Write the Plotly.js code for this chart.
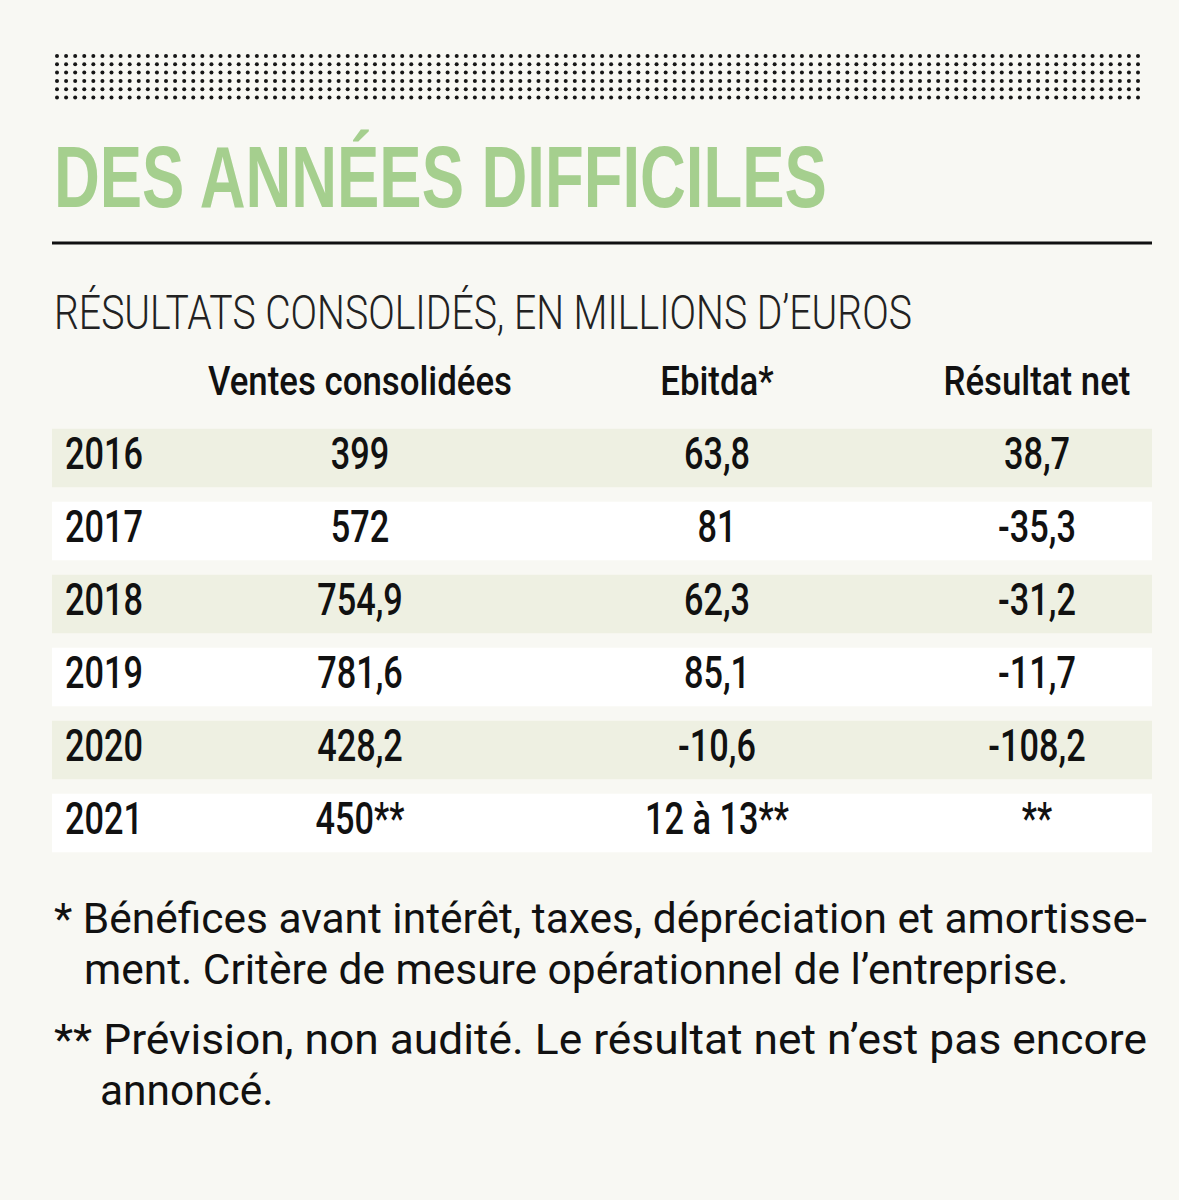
<!DOCTYPE html>
<html>
<head>
<meta charset="utf-8">
<script src="https://cdn.plot.ly/plotly-3.0.1.min.js"></script>
<style>
  html, body { margin: 0; padding: 0; background: #f8f8f3; }
  #chart { width: 1179px; height: 1200px; }
</style>
</head>
<body>
<div id="chart"></div>
<script>
// ---- Data ----
const years = ["2016", "2017", "2018", "2019", "2020", "2021"];
const ventes = ["399", "572", "754,9", "781,6", "428,2", "450**"];
const ebitda = ["63,8", "81", "62,3", "85,1", "-10,6", "12 à 13**"];
const resultatNet = ["38,7", "-35,3", "-31,2", "-11,7", "-108,2", "**"];
const headers = ["Ventes consolidées", "Ebitda*", "Résultat net"];

const titleText = "DES ANNÉES DIFFICILES";
const subtitleText = "RÉSULTATS CONSOLIDÉS, EN MILLIONS D’EUROS";
const note1 = ["* Bénéfices avant intérêt, taxes, dépréciation et amortisse-", "ment. Critère de mesure opérationnel de l’entreprise."];
const note2 = ["** Prévision, non audité. Le résultat net n’est pas encore", "annoncé."];

// ---- Layout / style constants ----
const W = 1179, H = 1200;
const BG = "#f8f8f3";
const rowIdx = years.map((_, i) => i);
const colYearX = 65, colX = [360, 717, 1037];
const bandLeft = 52, bandRight = 1152;
const rowColors = years.map((_, i) => i % 2 === 0 ? "#eef0e2" : "#ffffff");
const CELL_FONT = "Roboto, Liberation Sans, sans-serif";
const TITLE_FONT = "Liberation Sans, Arial, sans-serif";
const NOTE_FONT = "Roboto, Liberation Sans, sans-serif";
const YEAR_WIDTH = 78, HEAD_WIDTH = 304;
const TITLE_WIDTH = 773, SUBTITLE_WIDTH = 858, NOTE_WIDTH = 1093;

const traces = [];

// Row bands
traces.push({
  type: "bar", orientation: "h",
  y: rowIdx, x: rowIdx.map(() => bandRight - bandLeft), base: bandLeft,
  width: 0.8,
  marker: { color: rowColors, line: { width: 0 } },
  hoverinfo: "skip", showlegend: false
});

// Years column
traces.push({
  type: "scatter", mode: "text", x: rowIdx.map(() => colYearX), y: rowIdx,
  text: years, textposition: "middle right",
  textfont: { family: CELL_FONT, size: 44, color: "#111", weight: 500 },
  hoverinfo: "skip", showlegend: false
});

// Value columns
[ventes, ebitda, resultatNet].forEach((vals, c) => {
  traces.push({
    type: "scatter", mode: "text", x: rowIdx.map(() => colX[c]), y: rowIdx,
    text: vals, textposition: "middle center",
    textfont: { family: CELL_FONT, size: 44, color: "#111", weight: 500 },
    hoverinfo: "skip", showlegend: false
  });
});

// Header row
traces.push({
  type: "scatter", mode: "text", x: colX, y: headers.map(() => -1),
  text: headers, textposition: "middle center",
  textfont: { family: CELL_FONT, size: 40, color: "#111", weight: 500 },
  hoverinfo: "skip", showlegend: false
});

// Decorative dotted band (pixel axis y2)
const dx = [], dy = [];
for (let r = 0; r < 6; r++) {
  for (let c = 0; c < 120; c++) {
    dx.push(57 + c * (1138 - 57) / 119);
    dy.push(56 + r * 8.3);
  }
}
traces.push({
  type: "scatter", mode: "markers", x: dx, y: dy, yaxis: "y2",
  marker: { size: 4, color: "#161616" },
  hoverinfo: "skip", showlegend: false
});

const rowPx0 = 458, rowStep = 73;
const yRange = [(H - rowPx0) / rowStep, (0 - rowPx0) / rowStep];

function ann(text, px, py, font) {
  return {
    text: text, xref: "paper", yref: "paper",
    x: px / W, y: 1 - py / H, xanchor: "left", yanchor: "middle",
    showarrow: false, font: font, align: "left"
  };
}

const noteFont = { family: NOTE_FONT, size: 42, color: "#111" };

const layout = {
  width: W, height: H,
  margin: { l: 0, r: 0, t: 0, b: 0 },
  paper_bgcolor: BG, plot_bgcolor: BG,
  showlegend: false,
  xaxis: { range: [0, W], visible: false, fixedrange: true },
  yaxis: { range: yRange, visible: false, fixedrange: true },
  yaxis2: { range: [H, 0], visible: false, overlaying: "y", fixedrange: true },
  shapes: [
    { type: "line", xref: "paper", yref: "paper", x0: 52 / W, x1: 1152 / W,
      y0: 1 - 243 / H, y1: 1 - 243 / H, line: { color: "#111", width: 3 } }
  ],
  annotations: [
    ann(titleText, 52, 177, { family: TITLE_FONT, size: 88, color: "#a5cf8e", weight: 700 }),
    ann(subtitleText, 52, 313, { family: "Roboto, Liberation Sans, sans-serif", size: 48, color: "#222", weight: 300 }),
    ann(note1[0], 52, 918, noteFont),
    ann(note1[1], 82, 969, noteFont),
    ann(note2[0], 52, 1039, noteFont),
    ann(note2[1], 98, 1090, noteFont)
  ]
};

// Horizontal condensing of rendered text (installed fonts have no condensed face)
function squeeze(el, s) {
  const x = parseFloat(el.getAttribute("x")) || 0;
  const t = el.getAttribute("transform") || "";
  el.setAttribute("transform", t + " translate(" + x + ",0) scale(" + s + ",1) translate(" + (-x) + ",0)");
}

Plotly.newPlot("chart", traces, layout, { staticPlot: true, displayModeBar: false }).then(gd => {
  const cellSet = new Set([].concat(years, ventes, ebitda, resultatNet));
  const headSet = new Set(headers);
  const texts = Array.from(gd.querySelectorAll("text"));
  const widthOf = str => {
    const el = texts.find(e => e.textContent === str);
    return el ? el.getBBox().width : null;
  };
  const noteScale = NOTE_WIDTH / widthOf(note1[0]);
  const cellScale = YEAR_WIDTH / widthOf(years[0]);
  const headScale = HEAD_WIDTH / widthOf(headers[0]);
  texts.forEach(el => {
    const s = el.textContent;
    if (s === titleText) squeeze(el, TITLE_WIDTH / el.getBBox().width);
    else if (s === subtitleText) squeeze(el, SUBTITLE_WIDTH / el.getBBox().width);
    else if (headSet.has(s)) squeeze(el, headScale);
    else if (cellSet.has(s)) squeeze(el, cellScale);
    else if (s === note2[0]) squeeze(el, NOTE_WIDTH / el.getBBox().width); // justified line
    else if (s === note1[1] || s === note2[1] || s === note1[0]) squeeze(el, noteScale);
  });
});
</script>
</body>
</html>
